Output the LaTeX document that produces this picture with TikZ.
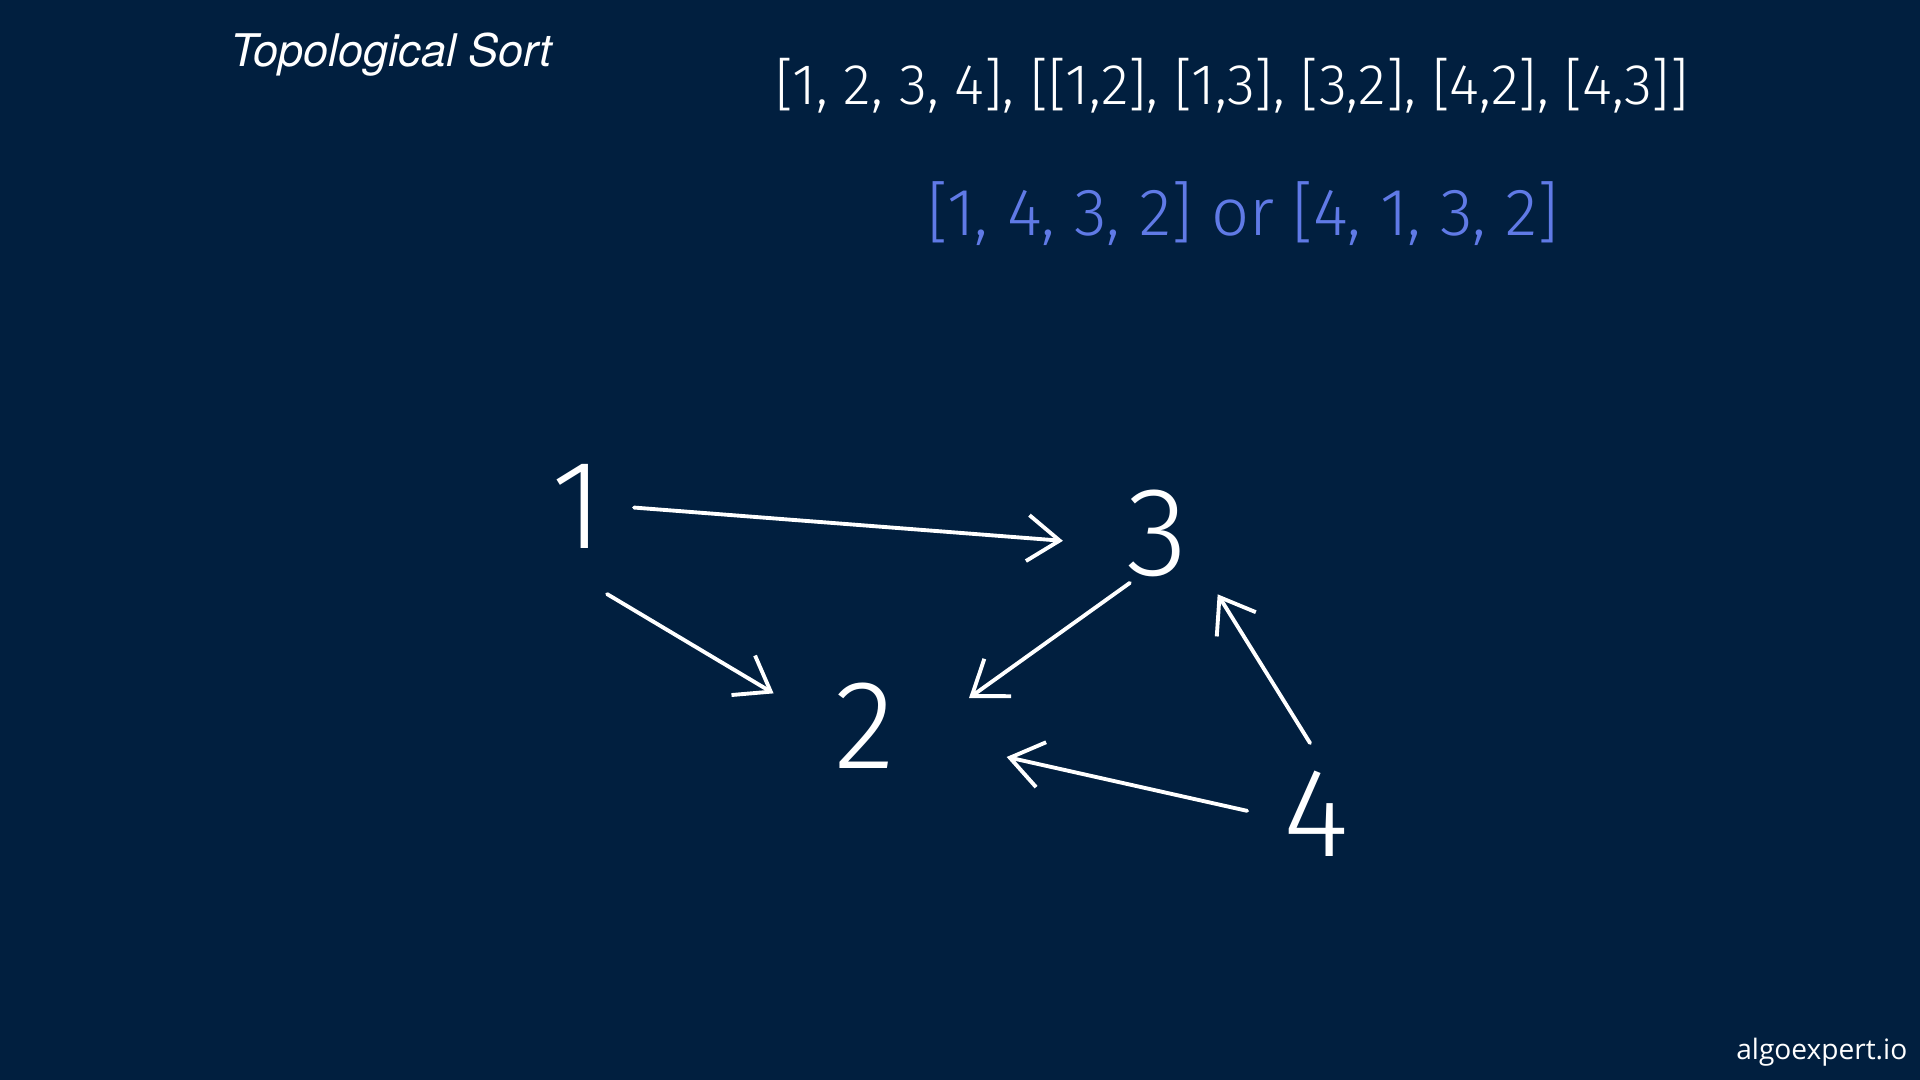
\documentclass[tikz,border=0pt]{standalone}
\usepackage{fontspec}
\usetikzlibrary{arrows.meta,positioning}
\newfontfamily\handfont{Fira Sans Light}
\newfontfamily\titlefont{TeX Gyre Heros}
\newfontfamily\logofont{Open Sans}
\definecolor{algoNavy}{RGB}{1, 31, 63}
\definecolor{algoBlue}{RGB}{96, 122, 230}

\begin{document}
\begin{tikzpicture}[
  vertex/.style={
    circle,
    inner sep=0pt,
    outer sep=0pt,
    minimum size=1.3cm,
    text=white,
    font=\handfont\fontsize{36}{40}\selectfont
  },
  edge/.style={-{Straight Barb[length=3.2mm,width=4.6mm]},line width=1.1pt,white,line cap=round,line join=round},
  list/.style={text=white,font=\handfont\fontsize{16.3}{20}\selectfont}
]
  \fill[algoNavy] (0,0) rectangle (19.2,10.8);
  \useasboundingbox (0,0) rectangle (19.2,10.8);
  \node[anchor=base west,inner sep=0pt,text=white,font=\titlefont\itshape\fontsize{12.8}{15}\selectfont] (title)
    at (2.30,10.13) {Topological Sort};
  \node[list] (input) at (12.32,9.94) {[1, 2, 3, 4], [[1,2], [1,3], [3,2], [4,2], [4,3]]};
  \node[list,text=algoBlue,font=\handfont\fontsize{19}{23}\selectfont] (answer)
    at (12.43,8.66) {[1, 4, 3, 2] or [4, 1, 3, 2]};
  \node[vertex] (v1) at (5.78,5.74) {1};
  \node[vertex] (v3) at (11.57,5.47) {3};
  \node[vertex] (v2) at (8.65,3.54) {2};
  \node[vertex] (v4) at (13.16,2.66) {4};
  \draw[edge,shorten <=-0.9mm,shorten >=3mm] (v1.-2) -- (v3.-171);
  \draw[edge,shorten <=4.7mm,shorten >=3.3mm] (v1.-100) -- (v2.166);
  \draw[edge,shorten <=-0.9mm,shorten >=4.8mm] (v3.-122) -- (v2.0);
  \draw[edge,shorten <=0.7mm,shorten >=2.2mm] (v4.92) -- (v3.-41);
  \draw[edge,shorten <=0.4mm,shorten >=8mm] (v4.178) -- (v2.-12);
  \node[anchor=base east,inner sep=0pt,text=white,font=\logofont\fontsize{8}{10}\selectfont] (logo)
    at (19.08,0.20) {algoexpert.io};
\end{tikzpicture}
\end{document}
